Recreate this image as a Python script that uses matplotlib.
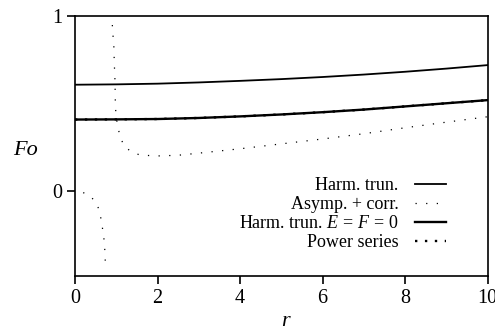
import numpy as np
import matplotlib
matplotlib.use('Agg')
import matplotlib.pyplot as plt

plt.rcParams['font.family'] = ['Liberation Serif', 'DejaVu Serif']
plt.rcParams['mathtext.fontset'] = 'custom'
plt.rcParams['mathtext.rm'] = 'Liberation Serif'
plt.rcParams['mathtext.it'] = 'Liberation Serif:italic'

# valores
r_harm = [0, 1, 2, 3, 4, 5, 6, 7, 8, 9, 10]
fo_harm = [0.606, 0.608, 0.612, 0.619, 0.628, 0.638, 0.650, 0.664, 0.680, 0.698, 0.718]

r_ef0 = [0, 1, 2, 3, 4, 5, 6, 7, 8, 9, 10]
fo_ef0 = [0.407, 0.408, 0.410, 0.416, 0.425, 0.436, 0.449, 0.464, 0.482, 0.500, 0.518]

r_power = [0, 1, 2, 3, 4, 5, 6, 7, 8, 9, 10]
fo_power = [0.407, 0.408, 0.410, 0.416, 0.425, 0.436, 0.449, 0.464, 0.482, 0.500, 0.518]

# rama izquierda de la asintotica (antes del polo)
r_asy1 = [0.20, 0.41, 0.54, 0.60, 0.64, 0.67, 0.70, 0.72, 0.73, 0.74]
fo_asy1 = [-0.01, -0.04, -0.08, -0.124, -0.173, -0.22, -0.27, -0.326, -0.377, -0.45]
# rama derecha
r_asy2 = [0.905, 0.92, 0.94, 0.953, 0.97, 0.977, 0.99, 1.02, 1.09, 1.19, 1.36,
          1.58, 2.0, 2.5, 3.0, 4.0, 5.0, 6.0, 7.0, 8.0, 9.0, 10.0]
fo_asy2 = [0.947, 0.89, 0.84, 0.728, 0.625, 0.514, 0.442, 0.39, 0.31, 0.257, 0.223,
           0.204, 0.199, 0.203, 0.215, 0.240, 0.268, 0.296, 0.326, 0.360, 0.392, 0.423]

fig = plt.figure(figsize=(4.95, 3.35), dpi=100)
ax = fig.add_axes([0.1515, 0.176, 0.8335, 0.777])

ax.plot(r_harm, fo_harm, color='black', lw=1.3, label='Harm. trun.')
ax.plot(r_asy1, fo_asy1, color='black', lw=0.9, ls=(0, (1, 7.5)), label='Asymp. + corr.')
ax.plot(r_asy2, fo_asy2, color='black', lw=0.9, ls=(0, (1, 7.5)))
ax.plot(r_ef0, fo_ef0, color='black', lw=1.7, label=r'Harm. trun. $E\,=\,F\,=\,0$')
ax.plot(r_power, fo_power, color='black', lw=1.7, ls=(0, (1, 3.2)), label='Power series')

ax.set_xlim(0, 10)
ax.set_ylim(-0.487, 1)
ax.set_xticks([0, 2, 4, 6, 8, 10])
ax.set_yticks([0, 1])
ax.tick_params(direction='out', length=6, width=1.2, labelsize=14.5, pad=3)
for s in ax.spines.values():
    s.set_linewidth(1.2)

ax.set_ylabel('Fo', style='italic', fontsize=16, rotation=0, va='center', ha='center')
ax.yaxis.set_label_coords(-0.121, 0.484)
ax.set_xlabel('r', style='italic', fontsize=16, va='center')
ax.xaxis.set_label_coords(0.509, -0.175)

ax.legend(loc='lower right', bbox_to_anchor=(0.92, 0.06), frameon=False,
          markerfirst=False, fontsize=13, handlelength=1.7, handletextpad=0.9,
          labelspacing=0.12, borderpad=0)

fig.savefig('out.png', dpi=100)
